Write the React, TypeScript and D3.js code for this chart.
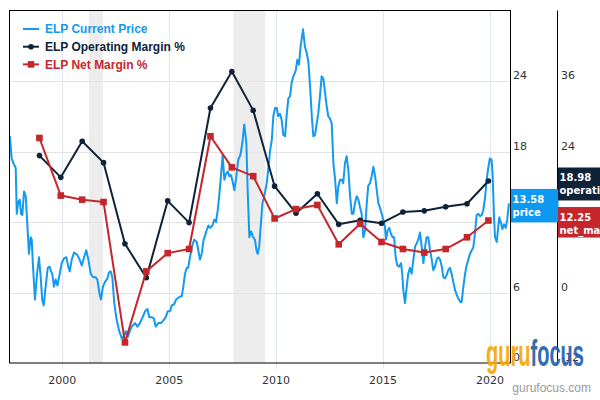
import React from "react";
import * as d3 from "d3";

// ---------- data ----------
const priceDates = [
  1997.55, 1997.63, 1997.74, 1997.82, 1997.87, 1997.94, 1998.01, 1998.07, 1998.13, 1998.21,
  1998.29, 1998.36, 1998.44, 1998.52, 1998.57, 1998.63, 1998.72, 1998.82, 1998.91, 1998.99,
  1999.06, 1999.13, 1999.22, 1999.32, 1999.41, 1999.47, 1999.53, 1999.61, 1999.69, 1999.77,
  1999.85, 1999.97, 2000.08, 2000.19, 2000.28, 2000.35, 2000.44, 2000.55, 2000.70, 2000.81,
  2000.91, 2001.02, 2001.12, 2001.22, 2001.33, 2001.44, 2001.56, 2001.64, 2001.75, 2001.81,
  2001.90, 2002.00, 2002.11, 2002.18, 2002.26, 2002.34, 2002.43, 2002.54, 2002.65, 2002.78,
  2002.85, 2002.97, 2003.06, 2003.17, 2003.25, 2003.40, 2003.51, 2003.63, 2003.76, 2003.87,
  2003.98, 2004.07, 2004.18, 2004.28, 2004.37, 2004.49, 2004.62, 2004.72, 2004.84, 2004.93,
  2005.04, 2005.12, 2005.23, 2005.32, 2005.46, 2005.59, 2005.66, 2005.74, 2005.82, 2005.89,
  2005.97, 2006.08, 2006.17, 2006.29, 2006.36, 2006.44, 2006.52, 2006.61, 2006.67, 2006.75,
  2006.83, 2006.91, 2007.02, 2007.11, 2007.19, 2007.27, 2007.34, 2007.42, 2007.50, 2007.58,
  2007.66, 2007.74, 2007.81, 2007.89, 2007.97, 2008.05, 2008.12, 2008.23, 2008.33, 2008.42,
  2008.51, 2008.61, 2008.67, 2008.75, 2008.83, 2008.93, 2009.01, 2009.09, 2009.14, 2009.21,
  2009.29, 2009.36, 2009.45, 2009.56, 2009.64, 2009.72, 2009.80, 2009.87, 2009.95, 2010.03,
  2010.10, 2010.18, 2010.26, 2010.34, 2010.42, 2010.50, 2010.57, 2010.65, 2010.73, 2010.81,
  2010.92, 2010.99, 2011.07, 2011.15, 2011.26, 2011.35, 2011.43, 2011.51, 2011.59, 2011.67,
  2011.74, 2011.82, 2011.90, 2011.97, 2012.05, 2012.13, 2012.21, 2012.29, 2012.37, 2012.44,
  2012.52, 2012.60, 2012.68, 2012.76, 2012.84, 2012.91, 2012.99, 2013.07, 2013.14, 2013.22,
  2013.30, 2013.38, 2013.46, 2013.54, 2013.61, 2013.69, 2013.77, 2013.85, 2013.92, 2014.00,
  2014.08, 2014.16, 2014.24, 2014.31, 2014.39, 2014.47, 2014.55, 2014.63, 2014.71, 2014.78,
  2014.86, 2014.94, 2015.01, 2015.09, 2015.14, 2015.22, 2015.30, 2015.37, 2015.45, 2015.52,
  2015.59, 2015.67, 2015.75, 2015.84, 2015.90, 2015.95, 2016.03, 2016.11, 2016.18, 2016.26,
  2016.34, 2016.42, 2016.50, 2016.58, 2016.65, 2016.73, 2016.81, 2016.89, 2016.97, 2017.04,
  2017.12, 2017.20, 2017.28, 2017.35, 2017.43, 2017.51, 2017.59, 2017.67, 2017.75, 2017.82,
  2017.90, 2017.98, 2018.05, 2018.13, 2018.21, 2018.29, 2018.37, 2018.45, 2018.52, 2018.62,
  2018.68, 2018.76, 2018.84, 2018.91, 2018.99, 2019.07, 2019.15, 2019.22, 2019.30, 2019.38,
  2019.46, 2019.54, 2019.62, 2019.69, 2019.77, 2019.85, 2019.93, 2020.00, 2020.08, 2020.13,
  2020.19, 2020.24, 2020.32, 2020.39, 2020.44, 2020.52, 2020.58, 2020.66, 2020.74, 2020.81,
  2020.89,
];

const priceValues = [
  19.3, 17.4, 16.9, 16.6, 12.7, 13.7, 13.9, 12.7, 12.6, 14.6,
  14.2, 11.9, 9.3, 10.7, 10.5, 8.2, 5.4, 7.6, 9.0, 7.3,
  5.4, 4.9, 6.5, 8.1, 8.2, 7.8, 7.6, 6.5, 7.1, 6.6,
  7.3, 8.5, 8.9, 9.0, 8.2, 7.8, 8.8, 9.4, 9.2, 8.8,
  8.3, 9.0, 9.6, 8.8, 7.6, 7.3, 7.3, 7.1, 5.8, 5.4,
  6.5, 6.9, 7.2, 7.7, 7.8, 7.3, 5.1, 3.7, 2.8, 2.1,
  2.2, 2.7, 2.2, 2.8, 3.1, 3.4, 3.1, 3.4, 3.9, 4.4,
  4.6, 3.9, 3.9, 3.8, 3.1, 3.4, 3.4, 3.6, 3.9, 4.4,
  4.4, 4.9, 5.0, 5.4, 5.6, 5.7, 6.5, 7.6, 8.1, 8.1,
  9.0, 10.0, 10.5, 10.3, 9.6, 8.8, 9.3, 10.5, 10.8, 11.3,
  11.7, 11.5, 11.7, 12.2, 12.0, 13.0, 14.2, 15.9, 17.7, 15.6,
  16.1, 16.3, 15.9, 16.0, 15.4, 14.7, 15.6, 17.3, 17.7, 18.7,
  20.3, 18.7, 14.7, 10.7, 11.2, 10.7, 10.5, 9.5, 9.3, 9.9,
  11.9, 13.6, 14.2, 15.3, 16.6, 18.1, 19.0, 21.0, 21.7, 21.7,
  21.0, 21.2, 20.7, 19.4, 19.3, 21.2, 22.5, 22.7, 23.9, 24.4,
  24.9, 25.8, 25.4, 27.0, 28.4, 26.9, 26.4, 25.6, 23.5, 21.0,
  19.3, 19.4, 20.4, 21.2, 22.7, 24.4, 24.2, 23.0, 21.8, 21.0,
  20.8, 20.4, 17.0, 15.6, 13.6, 15.0, 15.6, 15.6, 15.3, 17.0,
  17.6, 16.4, 14.2, 12.7, 12.7, 13.6, 14.2, 13.9, 13.3, 12.7,
  10.7, 11.3, 13.6, 15.1, 15.3, 15.9, 16.7, 15.9, 14.7, 13.6,
  13.2, 12.7, 12.2, 11.6, 10.5, 11.3, 11.5, 11.0, 10.7, 10.7,
  9.0, 8.3, 8.2, 8.5, 7.6, 6.2, 5.1, 6.5, 7.6, 8.1,
  7.6, 8.8, 9.9, 10.2, 10.5, 11.1, 9.9, 8.5, 9.9, 10.7,
  10.7, 9.6, 8.8, 7.9, 8.2, 8.8, 9.0, 8.8, 8.2, 7.3,
  7.2, 7.5, 7.9, 8.1, 7.6, 6.9, 6.2, 5.8, 5.5, 5.2,
  5.2, 6.5, 7.6, 8.3, 8.8, 9.3, 9.6, 9.8, 11.0, 12.6,
  12.7, 12.5, 12.6, 13.0, 14.0, 15.6, 16.7, 17.4, 17.3, 15.9,
  12.5, 10.7, 10.3, 11.6, 12.4, 11.9, 11.4, 11.8, 11.5, 12.2,
  13.58,
];

const marginDates = [
  1998.93, 1999.93, 2000.93, 2001.93, 2002.93, 2003.93, 2004.93, 2005.93, 2006.93, 2007.93, 2008.93,
  2009.93, 2010.93, 2011.93, 2012.93, 2013.93, 2014.93, 2015.93, 2016.93, 2017.93, 2018.93, 2019.93,
];
const operatingMargin = [
  23.3, 19.6, 25.75, 22.1, 8.3, 2.5, 15.6, 11.9, 31.4, 37.6, 31.0,
  18.1, 13.5, 16.8, 11.6, 12.3, 11.8, 13.7, 13.9, 14.6, 15.1, 18.98,
];
const netMargin = [
  26.3, 16.5, 15.8, 15.4, -8.5, 3.6, 6.7, 7.4, 26.6, 21.3, 19.8,
  12.6, 14.2, 14.9, 8.2, 11.7, 8.6, 7.4, 6.8, 7.4, 9.4, 12.25,
];

const xTicks = [2000, 2005, 2010, 2015, 2020];
const priceTicks = [0, 6, 12, 18, 24];
const priceGrid = [6, 12, 18, 24];
const marginTicks = [-12, 0, 12, 24, 36];
const recessions: [number, number][] = [
  [2001.25, 2001.9],
  [2008.0, 2009.48],
];
const seriesNames = ["ELP Current Price", "ELP Operating Margin %", "ELP Net Margin %"];
const lastTags = ["price", "operating_margin", "net_margin"];
const lastPrice = "13.58";
const lastOperating = "18.98";
const lastNet = "12.25";

// ---------- style ----------
const BLUE = "#1399f2";
const NAVY = "#0f2238";
const RED = "#c4262b";
const TICK_FONT = "'DejaVu Sans', sans-serif";

export default function App() {
  const plot = { left: 9, right: 510, top: 10.5, bottom: 363 };
  const axis2 = 557.5;

  const x = d3.scaleLinear().domain([1997.507, 2020.94]).range([plot.left, plot.right]);
  const yPrice = d3.scaleLinear().domain([0, 30]).range([plot.bottom, plot.top]);
  const yMargin = d3.scaleLinear().domain([-12, 48]).range([plot.bottom, plot.top]);

  const priceLine = d3
    .line<number>()
    .x((_, i) => x(priceDates[i]))
    .y((d) => yPrice(d))(priceValues) as string;
  const opLine = d3
    .line<number>()
    .x((_, i) => x(marginDates[i]))
    .y((d) => yMargin(d))(operatingMargin) as string;
  const netLine = d3
    .line<number>()
    .x((_, i) => x(marginDates[i]))
    .y((d) => yMargin(d))(netMargin) as string;

  const lastP = yPrice(priceValues[priceValues.length - 1]);
  const lastO = yMargin(operatingMargin[operatingMargin.length - 1]);
  const lastN = yMargin(netMargin[netMargin.length - 1]);

  const legendColors = [BLUE, NAVY, RED];

  return (
    <svg
      width={600}
      height={400}
      style={{ position: "absolute", left: 0, top: 0, background: "#fff" }}
      xmlns="http://www.w3.org/2000/svg"
    >
      <rect x={0} y={0} width={600} height={400} fill="#fff" />
      {/* recession bands */}
      {recessions.map(([a, b], i) => (
        <rect
          key={"r" + i}
          x={x(a)}
          y={plot.top}
          width={x(b) - x(a)}
          height={plot.bottom - plot.top}
          fill="#ededed"
        />
      ))}
      {/* horizontal grid */}
      {priceGrid.map((t) => (
        <line
          key={"g" + t}
          x1={plot.left}
          x2={plot.right}
          y1={Math.round(yPrice(t)) + 0.5}
          y2={Math.round(yPrice(t)) + 0.5}
          stroke="#e3e3e3"
          strokeWidth={1}
        />
      ))}
      {/* vertical grid + ticks */}
      {xTicks.map((t) => (
        <line
          key={"v" + t}
          x1={Math.round(x(t)) + 0.5}
          x2={Math.round(x(t)) + 0.5}
          y1={plot.top}
          y2={plot.bottom + 6}
          stroke="#dfe6ef"
          strokeWidth={1}
        />
      ))}
      {/* price line */}
      <path d={priceLine} fill="none" stroke={BLUE} strokeWidth={2} strokeLinejoin="round" />
      {/* operating margin */}
      <path d={opLine} fill="none" stroke={NAVY} strokeWidth={2} strokeLinejoin="round" />
      {operatingMargin.map((v, i) => (
        <circle key={"o" + i} cx={x(marginDates[i])} cy={yMargin(v)} r={2.8} fill={NAVY} />
      ))}
      {/* net margin */}
      <path d={netLine} fill="none" stroke={RED} strokeWidth={2} strokeLinejoin="round" />
      {netMargin.map((v, i) => (
        <rect
          key={"n" + i}
          x={x(marginDates[i]) - 3.3}
          y={yMargin(v) - 3.3}
          width={6.6}
          height={6.6}
          fill={RED}
        />
      ))}
      {/* plot border */}
      <rect
        x={plot.left + 0.5}
        y={plot.top}
        width={plot.right - plot.left}
        height={plot.bottom - plot.top}
        fill="none"
        stroke="#000"
        strokeWidth={1}
      />
      <line x1={axis2} x2={axis2} y1={plot.top} y2={plot.bottom} stroke="#000" strokeWidth={1} />

      {/* x labels */}
      {xTicks.map((t) => (
        <text
          key={"xl" + t}
          x={x(t)}
          y={384}
          textAnchor="middle"
          fontFamily={TICK_FONT}
          fontSize={11}
          fill="#333"
        >
          {t}
        </text>
      ))}
      {/* price axis labels */}
      {priceTicks.map((t) => (
        <text
          key={"pl" + t}
          x={513}
          y={yPrice(t) - 2}
          fontFamily={TICK_FONT}
          fontSize={11}
          fill="#333"
        >
          {t}
        </text>
      ))}
      {/* margin axis labels */}
      {marginTicks.map((t) => (
        <text
          key={"ml" + t}
          x={561}
          y={yMargin(t) - 2}
          fontFamily={TICK_FONT}
          fontSize={11}
          fill="#333"
        >
          {t}
        </text>
      ))}

      {/* legend */}
      {seriesNames.map((name, i) => {
        const cy = 29 + i * 17.7;
        const c = legendColors[i];
        return (
          <g key={"lg" + i}>
            <line x1={23} x2={39} y1={cy} y2={cy} stroke={c} strokeWidth={2} />
            {i === 1 && <circle cx={31} cy={cy} r={2.8} fill={c} />}
            {i === 2 && <rect x={27.7} y={cy - 3.3} width={6.6} height={6.6} fill={c} />}
            <text
              x={45}
              y={cy + 4.3}
              fontFamily="'Liberation Sans', Arial, sans-serif"
              fontWeight="bold"
              fontSize={12}
              fill={c}
            >
              {name}
            </text>
          </g>
        );
      })}

      {/* last value tags */}
      <g fontFamily={TICK_FONT} fontWeight="bold" fontSize={10} fill="#fff">
        <rect x={511} y={lastP - 14.5} width={47.5} height={33.5} fill="#0d99f2" />
        <text x={512.5} y={lastP - 0.5}>{lastPrice}</text>
        <text x={512.5} y={lastP + 12.5}>{lastTags[0]}</text>

        <rect x={558} y={lastO - 13.5} width={50} height={33} fill="#0f2238" />
        <text x={559.5} y={lastO + 0.5}>{lastOperating}</text>
        <text x={559.5} y={lastO + 13.5}>{lastTags[1]}</text>

        <rect x={558} y={lastN - 13.5} width={50} height={30.5} fill="#c4262b" />
        <text x={559.5} y={lastN + 0.5}>{lastNet}</text>
        <text x={559.5} y={lastN + 13.5}>{lastTags[2]}</text>
      </g>

      {/* watermark */}
      <text
        x={486}
        y={366}
        fontFamily="'Liberation Sans Narrow', 'Liberation Sans', Arial, sans-serif"
        fontWeight="bold"
        fontSize={36}
        textLength={98}
        lengthAdjust="spacingAndGlyphs"
        opacity={0.92}
      >
        <tspan fill="#f6a800">guru</tspan>
        <tspan fill="#2160ad">focus</tspan>
      </text>
      <text
        x={591}
        y={392}
        textAnchor="end"
        fontFamily="'Liberation Sans', Arial, sans-serif"
        fontSize={12}
        fill="#9a9a9a"
      >
        gurufocus.com
      </text>
    </svg>
  );
}
